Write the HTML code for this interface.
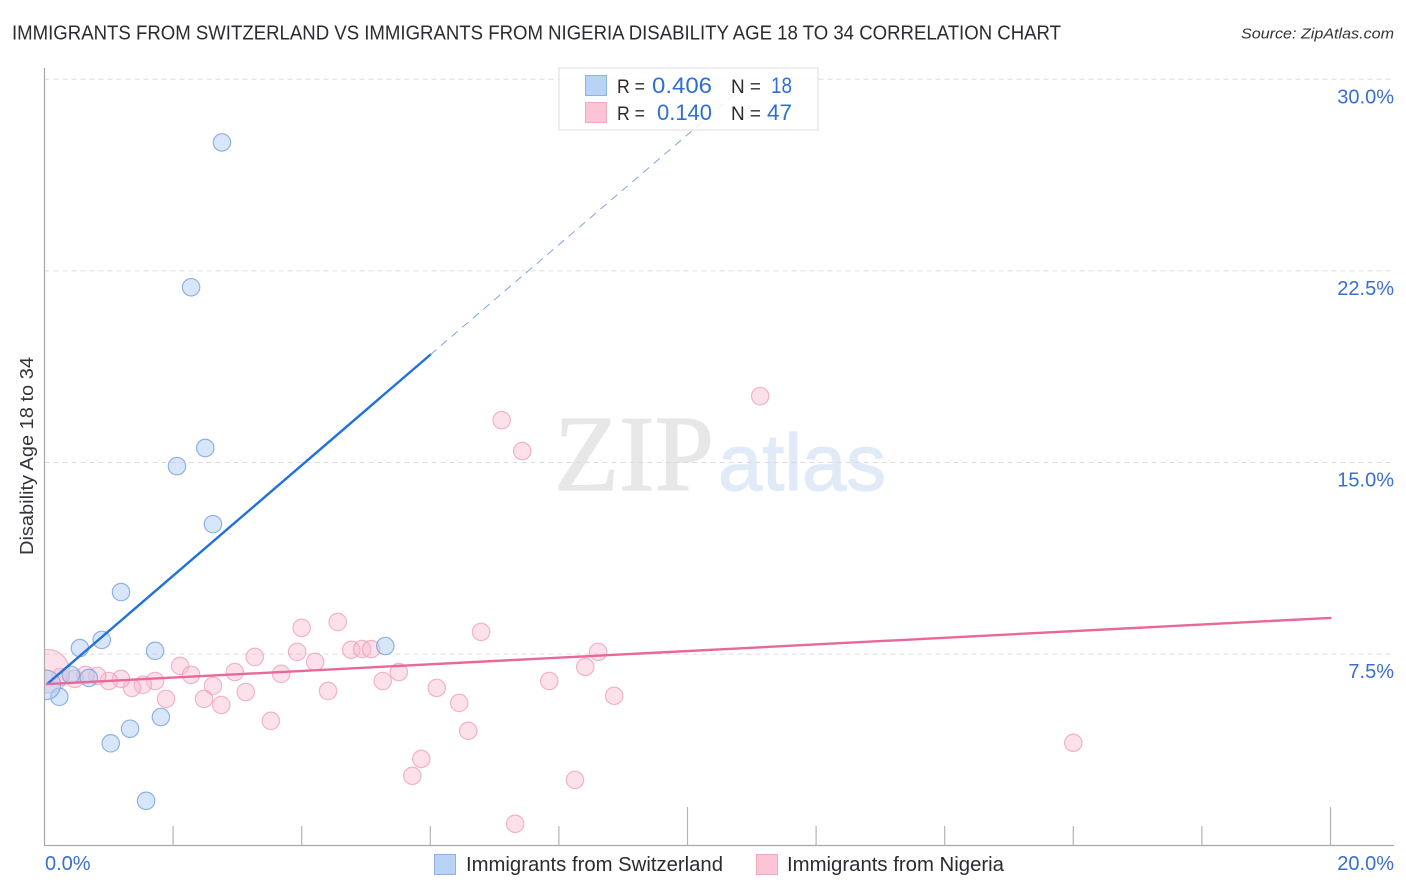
<!DOCTYPE html>
<html>
<head>
<meta charset="utf-8">
<style>
html,body{margin:0;padding:0;background:#fff;width:1406px;height:892px;overflow:hidden}
svg{display:block;font-family:"Liberation Sans",sans-serif}
</style>
</head>
<body>
<svg id="chart" xmlns="http://www.w3.org/2000/svg" width="1406" height="892" viewBox="0 0 1406 892">
  <rect x="0" y="0" width="1406" height="892" fill="#ffffff"/>
  <text x="12" y="39.5" font-size="20" fill="#2b2b33" textLength="1049" lengthAdjust="spacingAndGlyphs">IMMIGRANTS FROM SWITZERLAND VS IMMIGRANTS FROM NIGERIA DISABILITY AGE 18 TO 34 CORRELATION CHART</text>
  <text x="1241" y="38.5" font-size="15" font-style="italic" fill="#33333b" textLength="153" lengthAdjust="spacingAndGlyphs">Source: ZipAtlas.com</text>
  <text x="554" y="490" font-size="108" fill="#e7e7e7" stroke="#e7e7e7" stroke-width="1.2" font-family="'Liberation Serif',serif" textLength="160" lengthAdjust="spacingAndGlyphs">ZIP</text>
  <text x="718" y="490" font-size="80" fill="#e1ebf8" stroke="#e1ebf8" stroke-width="1.2" textLength="168" lengthAdjust="spacingAndGlyphs">atlas</text>
  <g id="grid"></g>
  <g id="axes"></g>
  <clipPath id="plot-clip"><rect x="45" y="60" width="1349" height="785"/></clipPath>
  <g id="pink-points" clip-path="url(#plot-clip)"></g>
  <g id="blue-points" clip-path="url(#plot-clip)"></g>
  <g id="trends"></g>
  <g id="y-tick-labels"></g>
  <g id="x-tick-labels"></g>
  <text transform="translate(33,456) rotate(-90)" text-anchor="middle" font-size="18" fill="#33333b" textLength="198" lengthAdjust="spacingAndGlyphs">Disability Age 18 to 34</text>

  <g>
    <rect x="559" y="68" width="259" height="62" fill="#ffffff" fill-opacity="0.85" stroke="#e2e2e2" stroke-width="1.2"/>
    <rect x="585.5" y="75.5" width="21" height="20" fill="#b8d3f6" stroke="#8fb2e2"/>
    <rect x="585.5" y="102.5" width="21" height="20" fill="#fcc5d6" stroke="#f0a9c0"/>
    <text x="617" y="93" font-size="19" fill="#2b2b33" textLength="28" lengthAdjust="spacingAndGlyphs">R =</text>
    <text x="652" y="93" font-size="22" fill="#2f6fd0" textLength="60" lengthAdjust="spacingAndGlyphs">0.406</text>
    <text x="731" y="93" font-size="19" fill="#2b2b33" textLength="30" lengthAdjust="spacingAndGlyphs">N =</text>
    <text x="771" y="93" font-size="22" fill="#2f6fd0" textLength="21" lengthAdjust="spacingAndGlyphs">18</text>
    <text x="617" y="120" font-size="19" fill="#2b2b33" textLength="28" lengthAdjust="spacingAndGlyphs">R =</text>
    <text x="657" y="120" font-size="22" fill="#2f6fd0" textLength="55" lengthAdjust="spacingAndGlyphs">0.140</text>
    <text x="731" y="120" font-size="19" fill="#2b2b33" textLength="30" lengthAdjust="spacingAndGlyphs">N =</text>
    <text x="767" y="120" font-size="22" fill="#2f6fd0" textLength="25" lengthAdjust="spacingAndGlyphs">47</text>
  </g>

  <g>
    <rect x="434.5" y="854.5" width="21" height="20" fill="#b8d3f6" stroke="#8fb2e2"/>
    <text x="466" y="871" font-size="20" fill="#2b2b33" textLength="257" lengthAdjust="spacingAndGlyphs">Immigrants from Switzerland</text>
    <rect x="756.5" y="854.5" width="21" height="20" fill="#fcc5d6" stroke="#f0a9c0"/>
    <text x="787" y="871" font-size="20" fill="#2b2b33" textLength="217" lengthAdjust="spacingAndGlyphs">Immigrants from Nigeria</text>
  </g>
</svg>
<script>
const switzerlandX = [2.76,2.28,2.50,2.06,2.62,1.19,0.89,0.55,1.72,5.30,0.41,0.69,0.23,1.81,1.33,1.03,1.58,0.02];
const switzerlandY = [27.53,21.86,15.57,14.86,12.59,9.93,8.06,7.74,7.63,7.82,6.69,6.57,5.83,5.04,4.58,4.01,1.76,6.30];
const switzerlandSize = [1,1,1,1,1,1,1,1,1,1,1,1,1,1,1,1,1,1.7];

const nigeriaX = [11.13,7.11,7.43,4.56,4.00,6.79,8.61,3.27,3.93,4.77,4.94,5.08,4.21,2.11,2.96,2.28,3.68,5.51,8.41,5.26,7.85,6.10,4.41,3.13,2.62,1.72,1.53,1.36,1.19,1.00,0.82,0.64,0.47,0.25,1.89,2.48,2.75,3.52,6.45,6.59,8.86,5.86,5.72,8.25,7.32,16.00,0.05];
const nigeriaY = [17.60,16.66,15.45,8.76,8.53,8.37,7.59,7.39,7.59,7.67,7.70,7.70,7.20,7.04,6.80,6.69,6.73,6.80,7.00,6.45,6.45,6.18,6.06,6.02,6.26,6.45,6.30,6.18,6.53,6.45,6.65,6.69,6.53,6.61,5.75,5.75,5.51,4.89,5.59,4.50,5.87,3.40,2.74,2.58,0.86,4.03,6.83];
const nigeriaSize = [1,1,1,1,1,1,1,1,1,1,1,1,1,1,1,1,1,1,1,1,1,1,1,1,1,1,1,1,1,1,1,1,1,1,1,1,1,1,1,1,1,1,1,1,1,1,2.5];

const switzerlandTrendX = [0.04,6.0,10.96];
const switzerlandTrendY = [6.33,19.22,29.9];
const nigeriaTrendX = [0.04,20];
const nigeriaTrendY = [6.33,8.92];

const yTicks = [7.5,15,22.5,30];
const yTickLabels = ["7.5%","15.0%","22.5%","30.0%"];
const xTicks = [0,2,4,6,8,10,12,14,16,18,20];
const xEndLabels = ["0.0%","20.0%"];

const NS = "http://www.w3.org/2000/svg";
function xScale(v){ return 44.5 + v * 64.3; }
function yScale(v){ return 845.8 - v * 25.55; }
function make(tag, attrs, parent){
  const el = document.createElementNS(NS, tag);
  for (const k in attrs) el.setAttribute(k, attrs[k]);
  parent.appendChild(el);
  return el;
}

const grid = document.getElementById("grid");
const axes = document.getElementById("axes");
const yLabels = document.getElementById("y-tick-labels");
const xLabels = document.getElementById("x-tick-labels");

yTicks.forEach(function(t, i){
  const line = make("line", {x1:44.5, x2:1394, y1:yScale(t), y2:yScale(t), stroke:"#dcdcdc", "stroke-width":1, "stroke-dasharray":"5 4"}, grid);
  
  
  const label = make("text", {x:1394, y:yScale(t)+24, "text-anchor":"end", "font-size":20, fill:"#3a6fcf"}, yLabels);
  
  
  label.textContent = yTickLabels[i];
});

const yAxis = make("line", {x1:44.5, x2:44.5, y1:68, y2:845.5, stroke:"#a8a8a8", "stroke-width":1.2}, axes);


const xAxis = make("line", {x1:44, x2:1394, y1:845.5, y2:845.5, stroke:"#a8a8a8", "stroke-width":1.2}, axes);



xTicks.forEach(function(t){
  if (t === 0) return;
  const long = (t === 10 || t === 20);
  const tick = make("line", {x1:xScale(t), x2:xScale(t), y1:long ? 807 : 826, y2:845.5, stroke:"#b4b4b4", "stroke-width":1.2}, axes);
  
  
});

const xLabelStart = make("text", {x:45, y:870, "font-size":20, fill:"#3a6fcf"}, xLabels);


xLabelStart.textContent = xEndLabels[0];
const xLabelEnd = make("text", {x:1394, y:870, "text-anchor":"end", "font-size":20, fill:"#3a6fcf"}, xLabels);


xLabelEnd.textContent = xEndLabels[1];

const pinkGroup = document.getElementById("pink-points");
nigeriaX.forEach(function(x, i){
  const c = make("circle", {cx:xScale(x), cy:yScale(nigeriaY[i]), r:8.7*nigeriaSize[i], fill:"#f9b8cc", "fill-opacity":0.42, stroke:"#ee9db8", "stroke-opacity":0.75, "stroke-width":1.2}, pinkGroup);
  
  
});

const blueGroup = document.getElementById("blue-points");
switzerlandX.forEach(function(x, i){
  const c = make("circle", {cx:xScale(x), cy:yScale(switzerlandY[i]), r:8.7*switzerlandSize[i], fill:"#b0cdf2", "fill-opacity":0.5, stroke:"#7fa6de", "stroke-opacity":0.85, "stroke-width":1.2}, blueGroup);
  
  
});

const trends = document.getElementById("trends");
const blueSolid = make("line", {x1:xScale(switzerlandTrendX[0]), y1:yScale(switzerlandTrendY[0]), x2:xScale(switzerlandTrendX[1]), y2:yScale(switzerlandTrendY[1]), stroke:"#2272d9", "stroke-width":2.4, "stroke-linecap":"round"}, trends);


const blueDash = make("line", {x1:xScale(switzerlandTrendX[1]), y1:yScale(switzerlandTrendY[1]), x2:xScale(switzerlandTrendX[2]), y2:yScale(switzerlandTrendY[2]), stroke:"#7ea6dc", "stroke-width":1, "stroke-dasharray":"8 6"}, trends);


const pinkLine = make("line", {x1:xScale(nigeriaTrendX[0]), y1:yScale(nigeriaTrendY[0]), x2:xScale(nigeriaTrendX[1]), y2:yScale(nigeriaTrendY[1]), stroke:"#e9689a", "stroke-width":2.4, "stroke-linecap":"round"}, trends);


</script>
</body>
</html>
